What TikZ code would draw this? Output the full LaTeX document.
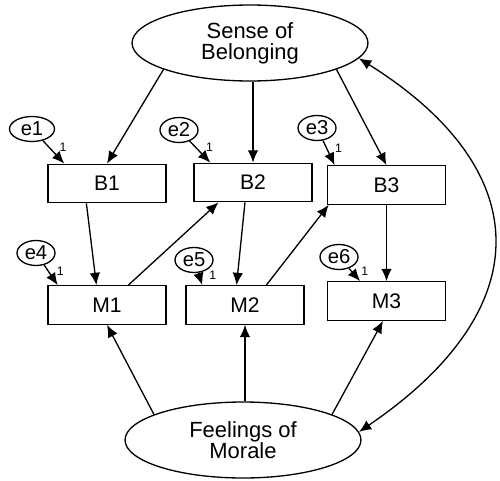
\documentclass[tikz,border=0pt]{standalone}
\usepackage{fontspec}
\setmainfont{Liberation Sans}
\usetikzlibrary{shapes.geometric,arrows.meta}

\tikzset{
  latent/.style={ellipse, draw, line width=0.75pt, minimum width=4.72cm, minimum height=1.52cm,
    inner sep=0pt, align=center, font=\fontsize{12.5}{12}\selectfont},
  obs/.style={rectangle, draw, line width=0.75pt, minimum width=2.36cm, minimum height=0.77cm,
    inner sep=0pt, font=\fontsize{12}{12}\selectfont},
  err/.style={ellipse, draw, line width=0.75pt, minimum width=0.76cm, minimum height=0.5cm,
    inner sep=0pt, font=\fontsize{11.5}{11.5}\selectfont},
  path/.style={line width=0.75pt, -{Latex[length=7pt,width=6pt]}},
  lbl/.style={font=\fontsize{7}{7}\selectfont, inner sep=0.5pt}
}

\begin{document}
\begin{tikzpicture}[x=0.02cm, y=-0.02cm]
  % Fix the page to the picture size
  \useasboundingbox (0,0) rectangle (500,480);

  % Latent factors
  \node[latent] (Sense) at (250,43) {Sense of\\Belonging};
  \node[latent] (Morale) at (243,440) {Feelings of\\Morale};

  % Observed items
  \node[obs] (B1) at (107,183.5) {B1};
  \node[obs] (B2) at (253,182.5) {B2};
  \node[obs] (B3) at (386.5,185) {B3};
  \node[obs] (M1) at (107,305) {M1};
  \node[obs] (M2) at (245,305) {M2};
  \node[obs] (M3) at (386.5,301) {M3};

  % Error terms
  \node[err, minimum width=0.9cm] (e1) at (32,129) {e1};
  \node[err] (e2) at (179,130) {e2};
  \node[err] (e3) at (317,128) {e3};
  \node[err] (e4) at (36,253) {e4};
  \node[err] (e5) at (194,260) {e5};
  \node[err] (e6) at (339,257) {e6};

  % Errors to items
  \draw[path] (e1) -- node[lbl, pos=0.3, right=5pt] {1} (B1.155);
  \draw[path] (e2) -- node[lbl, pos=0.3, right=5pt] {1} (B2.155);
  \draw[path] (e3) -- node[lbl, pos=0.3, right=4pt] {1} (B3.159);
  \draw[path] (e4) -- node[lbl, pos=0.3, right=4pt] {1} (M1.158);
  \draw[path] (e5) -- node[lbl, pos=0.2, right=5pt] {1} (M2.155);
  \draw[path] (e6) -- node[lbl, pos=0.2, right=5pt] {1} (M3.143);

  % Sense of belonging to B items
  \draw[path] (Sense.197) -- (B1.north);
  \draw[path] (Sense.south -| B2.north) -- (B2.north);
  \draw[path] (Sense.343) -- (B3.north);

  % Paths between B and M items
  \draw[path] (B1.224) -- (M1.118);
  \draw[path] (M1.43) -- (B2.210);
  \draw[path] (B2.248) -- (M2.113);
  \draw[path] (M2.43) -- (B3.199);
  \draw[path] (B3.south) -- (M3.north);

  % Feelings of morale to M items
  \draw[path] (Morale.164) -- (M1.south);
  \draw[path] (Morale.north -| M2.south) -- (M2.south);
  \draw[path] (Morale.16) -- (M3.260);

  % Covariance between the factors
  \draw[line width=0.75pt, {Latex[length=7pt,width=6pt]}-{Latex[length=7pt,width=6pt]}]
    (Sense.352) .. controls +(177,111) and +(182,-124) .. (Morale.4);
\end{tikzpicture}
\end{document}
